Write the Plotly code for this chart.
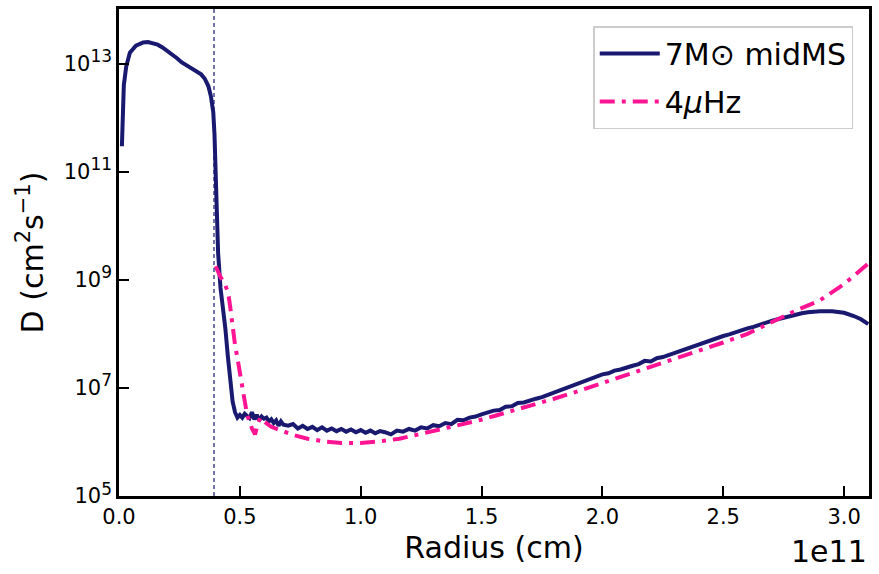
import plotly.graph_objects as go

# Radius in units of 1e11 cm, log10(D / cm^2 s^-1)
r_mid = [0.012, 0.02, 0.03, 0.045, 0.07, 0.1, 0.12, 0.14, 0.16, 0.18, 0.20, 0.22, 0.24, 0.26, 0.28,
         0.30, 0.32, 0.34, 0.355, 0.37, 0.38, 0.39, 0.395, 0.40, 0.405, 0.41, 0.42, 0.43, 0.44, 0.45,
         0.46, 0.47, 0.48, 0.49, 0.50, 0.51, 0.52, 0.53, 0.54, 0.55, 0.56, 0.57, 0.58, 0.59, 0.60,
         0.61, 0.62, 0.63, 0.64, 0.65, 0.66, 0.67, 0.68, 0.70, 0.72, 0.74, 0.76, 0.78, 0.80, 0.82,
         0.84, 0.86, 0.88, 0.90, 0.92, 0.94, 0.96, 0.98, 1.00, 1.02, 1.04, 1.06, 1.08,
         1.100, 1.125, 1.150, 1.175, 1.200, 1.225, 1.250, 1.275, 1.300, 1.325, 1.350, 1.375,
         1.400, 1.425, 1.450, 1.475, 1.500, 1.525, 1.550, 1.575, 1.600, 1.625, 1.650, 1.675,
         1.700, 1.725, 1.750, 1.775, 1.800, 1.825, 1.850, 1.875, 1.900, 1.925, 1.950, 1.975,
         2.000, 2.025, 2.050, 2.075, 2.100, 2.125, 2.150, 2.175, 2.200, 2.225, 2.250, 2.275,
         2.300, 2.325, 2.350, 2.375, 2.400, 2.425, 2.450, 2.475, 2.500, 2.525, 2.550, 2.575,
         2.600, 2.625, 2.650, 2.675, 2.700, 2.725, 2.750, 2.775, 2.800, 2.825, 2.850, 2.875,
         2.900, 2.95, 3.00, 3.04, 3.07, 3.10]
logD_mid = [11.47, 12.6, 12.95, 13.2, 13.33, 13.39, 13.40, 13.38, 13.35, 13.30, 13.24, 13.17, 13.10, 13.02, 12.96,
            12.91, 12.86, 12.80, 12.72, 12.58, 12.40, 12.10, 11.7, 10.9, 10.2, 9.5, 8.85, 8.5, 8.1, 7.6,
            7.1, 6.75, 6.55, 6.45, 6.50, 6.45, 6.52, 6.48, 6.44, 6.55, 6.42, 6.50, 6.40, 6.47, 6.43,
            6.45, 6.38, 6.42, 6.35, 6.40, 6.30, 6.38, 6.32, 6.30, 6.33, 6.25, 6.30, 6.24, 6.28, 6.22,
            6.27, 6.21, 6.25, 6.20, 6.24, 6.19, 6.23, 6.18, 6.22, 6.17, 6.21, 6.16, 6.20,
            6.18, 6.14, 6.21, 6.19, 6.24, 6.21, 6.27, 6.25, 6.31, 6.29, 6.35, 6.33,
            6.41, 6.40, 6.45, 6.47, 6.51, 6.54, 6.58, 6.59, 6.65, 6.66, 6.72, 6.73,
            6.77, 6.80, 6.83, 6.87, 6.91, 6.96, 6.99, 7.04, 7.08, 7.13, 7.16, 7.21,
            7.25, 7.27, 7.32, 7.34, 7.38, 7.41, 7.44, 7.50, 7.49, 7.55, 7.57, 7.61,
            7.65, 7.68, 7.73, 7.76, 7.81, 7.84, 7.88, 7.92, 7.96, 7.99, 8.03, 8.06,
            8.10, 8.13, 8.17, 8.20, 8.24, 8.27, 8.30, 8.33, 8.36, 8.38, 8.40, 8.41,
            8.42, 8.42, 8.39, 8.33, 8.27, 8.18]

r_4uhz = [0.40, 0.42, 0.44, 0.452, 0.46, 0.47, 0.48, 0.49, 0.50, 0.51, 0.52, 0.53, 0.54, 0.55, 0.563,
          0.575, 0.585, 0.60, 0.63, 0.67, 0.72, 0.78, 0.85, 0.92, 1.00, 1.08, 1.16, 1.24, 1.32, 1.40,
          1.48, 1.56, 1.64, 1.72, 1.80, 1.90, 2.00, 2.10, 2.20, 2.30, 2.40, 2.50, 2.60, 2.70, 2.80,
          2.90, 3.00, 3.10]
logD_4uhz = [9.25, 9.05, 8.9, 8.75, 8.5, 8.1, 7.8, 7.55, 7.3, 7.0, 6.7, 6.5, 6.38, 6.25, 6.14,
             6.35, 6.45, 6.38, 6.28, 6.21, 6.13, 6.06, 6.01, 5.98, 5.98, 6.01, 6.06, 6.14, 6.22, 6.30,
             6.39, 6.49, 6.59, 6.69, 6.80, 6.94, 7.09, 7.24, 7.38, 7.53, 7.68, 7.84, 8.00, 8.22, 8.43,
             8.62, 8.92, 9.30]

boundary_r = 0.393
x_ticks = [0.0, 0.5, 1.0, 1.5, 2.0, 2.5, 3.0]
y_tick_exps = [5, 7, 9, 11, 13]

NAVY = "#191970"
PINK = "#FF1493"
FONT = "DejaVu Sans"

fig = go.Figure()
fig.add_trace(go.Scatter(x=r_mid, y=[10 ** v for v in logD_mid], mode="lines",
                         name="7M⊙ midMS", legendgroup="a",
                         line=dict(color=NAVY, width=4)))
fig.add_trace(go.Scatter(x=r_4uhz, y=[10 ** v for v in logD_4uhz], mode="lines",
                         name="4<i>μ</i>Hz", legendgroup="b",
                         line=dict(color=PINK, width=4, dash="15px,7px,4px,7px")))

fig.add_shape(type="line", xref="x", yref="paper", x0=boundary_r, x1=boundary_r, y0=0, y1=1,
              line=dict(color=NAVY, width=1.2, dash="4px,3px"))

fig.add_annotation(text="1e11", xref="paper", yref="paper", x=1.0, y=-0.113,
                   xanchor="right", yanchor="middle", showarrow=False,
                   font=dict(family=FONT, size=30, color="black"))

fig.update_layout(
    width=879, height=574,
    margin=dict(l=119, r=10, t=6, b=78),
    paper_bgcolor="white", plot_bgcolor="white",
    font=dict(family=FONT, color="black"),
    showlegend=True,
    legend=dict(x=0.979, y=0.965, xanchor="right", yanchor="top",
                bordercolor="#cccccc", borderwidth=1.5, bgcolor="white",
                font=dict(family=FONT, size=30), itemwidth=60, tracegroupgap=6),
    xaxis=dict(range=[0, 3.103], tickvals=x_ticks, ticktext=[f"{v:.1f}" for v in x_ticks],
               ticks="inside", ticklen=10, tickwidth=2, tickcolor="black",
               showline=True, linecolor="black", linewidth=2.5, mirror=True,
               showgrid=False, zeroline=False,
               tickfont=dict(family=FONT, size=21),
               title=dict(text="Radius (cm)", font=dict(family=FONT, size=30), standoff=10)),
    yaxis=dict(type="log", range=[5, 14.01],
               tickvals=[10 ** e for e in y_tick_exps],
               ticktext=[f"10<sup><span style='font-size:17px'>{e}</span></sup>" for e in y_tick_exps],
               ticks="inside", ticklen=10, tickwidth=2, tickcolor="black",
               showline=True, linecolor="black", linewidth=2.5, mirror=True,
               showgrid=False, zeroline=False,
               tickfont=dict(family=FONT, size=21),
               title=dict(text="D (cm<sup>2</sup>s<sup>−1</sup>)", font=dict(family=FONT, size=30), standoff=12)),
)

fig.write_html("out.html")
